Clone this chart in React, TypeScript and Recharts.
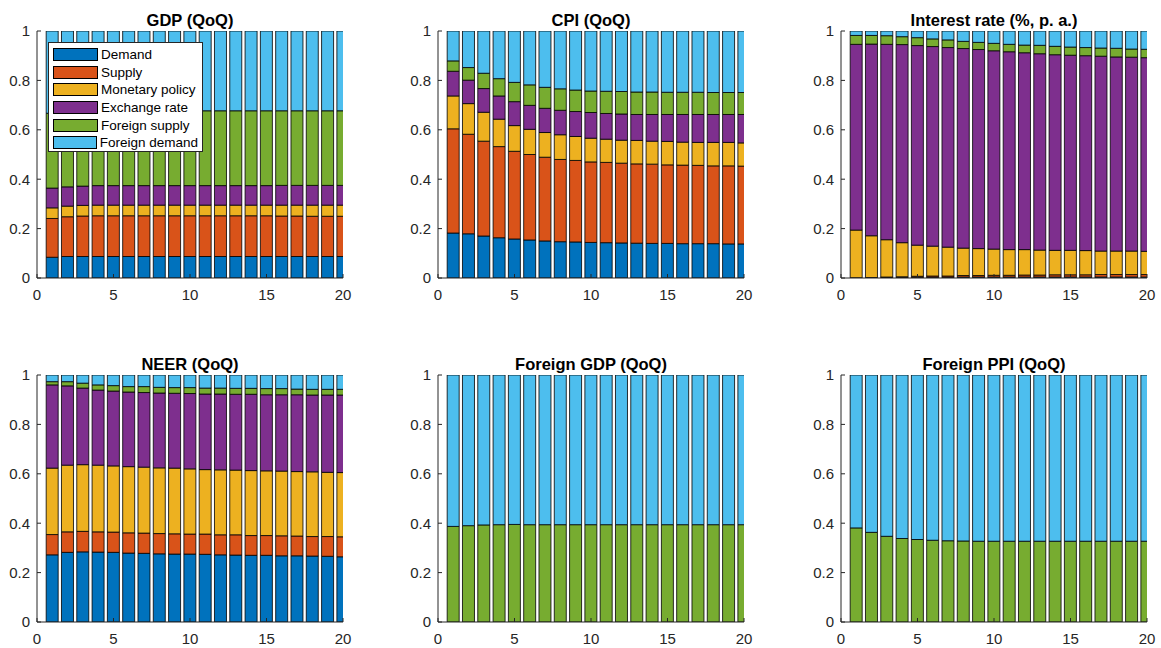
import React from 'react';
import { BarChart, Bar, XAxis, YAxis, Legend } from 'recharts';

const periods = [1, 2, 3, 4, 5, 6, 7, 8, 9, 10, 11, 12, 13, 14, 15, 16, 17, 18, 19, 20];
const shockNames = ['Demand', 'Supply', 'Monetary policy', 'Exchange rate', 'Foreign supply', 'Foreign demand'];
const shockColors = ['#0072BD', '#D95319', '#EDB120', '#7E2F8E', '#77AC30', '#4DBEEE'];
const xTicks = [0, 5, 10, 15, 20];
const yTicks = [0, 0.2, 0.4, 0.6, 0.8, 1];

// GDP (QoQ)
const gdpDemand = [0.084, 0.087, 0.087, 0.087, 0.087, 0.087, 0.087, 0.087, 0.087, 0.087, 0.087, 0.087, 0.087, 0.087, 0.087, 0.087, 0.087, 0.087, 0.087, 0.087];
const gdpSupply = [0.157, 0.161, 0.164, 0.165, 0.165, 0.165, 0.165, 0.165, 0.165, 0.165, 0.165, 0.165, 0.165, 0.165, 0.165, 0.164, 0.164, 0.163, 0.163, 0.163];
const gdpMonetary = [0.043, 0.043, 0.043, 0.043, 0.043, 0.043, 0.043, 0.043, 0.043, 0.043, 0.043, 0.043, 0.043, 0.043, 0.043, 0.044, 0.044, 0.045, 0.045, 0.045];
const gdpExchange = [0.080, 0.078, 0.078, 0.079, 0.079, 0.079, 0.079, 0.079, 0.079, 0.079, 0.079, 0.079, 0.079, 0.079, 0.079, 0.080, 0.080, 0.080, 0.080, 0.080];
const gdpForeignSupply = [0.303, 0.308, 0.305, 0.303, 0.303, 0.303, 0.303, 0.303, 0.303, 0.303, 0.303, 0.303, 0.303, 0.303, 0.303, 0.302, 0.302, 0.302, 0.302, 0.302];
const gdpForeignDemand = [0.333, 0.323, 0.323, 0.323, 0.323, 0.323, 0.323, 0.323, 0.323, 0.323, 0.323, 0.323, 0.323, 0.323, 0.323, 0.323, 0.323, 0.323, 0.323, 0.323];

// CPI (QoQ)
const cpiDemand = [0.182, 0.179, 0.170, 0.163, 0.158, 0.154, 0.150, 0.147, 0.146, 0.144, 0.143, 0.142, 0.141, 0.140, 0.140, 0.139, 0.139, 0.139, 0.138, 0.138];
const cpiSupply = [0.422, 0.403, 0.384, 0.369, 0.355, 0.346, 0.339, 0.333, 0.330, 0.326, 0.325, 0.323, 0.321, 0.321, 0.318, 0.318, 0.317, 0.315, 0.316, 0.315];
const cpiMonetary = [0.133, 0.124, 0.117, 0.111, 0.104, 0.102, 0.100, 0.100, 0.097, 0.096, 0.094, 0.093, 0.095, 0.093, 0.095, 0.093, 0.093, 0.095, 0.095, 0.094];
const cpiExchange = [0.100, 0.095, 0.096, 0.094, 0.097, 0.097, 0.098, 0.099, 0.101, 0.104, 0.104, 0.106, 0.105, 0.108, 0.109, 0.112, 0.113, 0.113, 0.113, 0.115];
const cpiForeignSupply = [0.042, 0.051, 0.062, 0.070, 0.078, 0.083, 0.085, 0.087, 0.087, 0.087, 0.090, 0.091, 0.091, 0.091, 0.090, 0.090, 0.090, 0.089, 0.089, 0.089];
const cpiForeignDemand = [0.121, 0.148, 0.171, 0.193, 0.208, 0.218, 0.228, 0.234, 0.239, 0.243, 0.244, 0.245, 0.247, 0.247, 0.248, 0.248, 0.248, 0.249, 0.249, 0.249];

// Interest rate (%, p. a.)
const rateDemand = [0.001, 0.001, 0.002, 0.002, 0.003, 0.003, 0.003, 0.004, 0.004, 0.004, 0.004, 0.004, 0.004, 0.004, 0.004, 0.004, 0.004, 0.004, 0.004, 0.004];
const rateSupply = [0.000, 0.001, 0.002, 0.003, 0.004, 0.005, 0.005, 0.006, 0.006, 0.007, 0.007, 0.008, 0.008, 0.009, 0.009, 0.009, 0.010, 0.010, 0.010, 0.010];
const rateMonetary = [0.193, 0.169, 0.151, 0.138, 0.126, 0.121, 0.117, 0.111, 0.109, 0.106, 0.104, 0.103, 0.101, 0.099, 0.099, 0.098, 0.095, 0.095, 0.095, 0.094];
const rateExchange = [0.752, 0.776, 0.791, 0.802, 0.808, 0.808, 0.808, 0.808, 0.806, 0.803, 0.801, 0.797, 0.795, 0.792, 0.790, 0.789, 0.789, 0.786, 0.785, 0.784];
const rateForeignSupply = [0.036, 0.035, 0.035, 0.032, 0.032, 0.031, 0.031, 0.029, 0.029, 0.030, 0.030, 0.031, 0.034, 0.034, 0.033, 0.033, 0.033, 0.035, 0.033, 0.034];
const rateForeignDemand = [0.018, 0.018, 0.019, 0.023, 0.027, 0.032, 0.036, 0.042, 0.046, 0.050, 0.054, 0.057, 0.058, 0.062, 0.065, 0.067, 0.069, 0.070, 0.073, 0.074];

// NEER (QoQ)
const neerDemand = [0.272, 0.282, 0.284, 0.283, 0.282, 0.279, 0.278, 0.276, 0.275, 0.275, 0.274, 0.272, 0.271, 0.270, 0.270, 0.268, 0.268, 0.267, 0.266, 0.264];
const neerSupply = [0.082, 0.083, 0.083, 0.082, 0.082, 0.082, 0.082, 0.082, 0.082, 0.081, 0.082, 0.081, 0.082, 0.080, 0.080, 0.081, 0.080, 0.079, 0.080, 0.081];
const neerMonetary = [0.269, 0.270, 0.270, 0.270, 0.268, 0.268, 0.267, 0.266, 0.266, 0.264, 0.261, 0.263, 0.262, 0.263, 0.262, 0.262, 0.261, 0.262, 0.260, 0.260];
const neerExchange = [0.337, 0.321, 0.310, 0.304, 0.303, 0.302, 0.302, 0.303, 0.303, 0.305, 0.306, 0.307, 0.307, 0.309, 0.308, 0.309, 0.311, 0.311, 0.313, 0.314];
const neerForeignSupply = [0.013, 0.017, 0.020, 0.021, 0.022, 0.022, 0.024, 0.023, 0.023, 0.024, 0.024, 0.024, 0.024, 0.024, 0.025, 0.025, 0.023, 0.023, 0.023, 0.023];
const neerForeignDemand = [0.027, 0.027, 0.033, 0.040, 0.043, 0.047, 0.047, 0.050, 0.051, 0.051, 0.053, 0.053, 0.054, 0.054, 0.055, 0.055, 0.057, 0.058, 0.058, 0.058];

// Foreign GDP (QoQ)
const fgdpForeignSupply = [0.387, 0.390, 0.393, 0.394, 0.395, 0.394, 0.394, 0.394, 0.394, 0.394, 0.394, 0.394, 0.394, 0.394, 0.394, 0.394, 0.394, 0.394, 0.394, 0.394];
const fgdpForeignDemand = [0.613, 0.610, 0.607, 0.606, 0.605, 0.606, 0.606, 0.606, 0.606, 0.606, 0.606, 0.606, 0.606, 0.606, 0.606, 0.606, 0.606, 0.606, 0.606, 0.606];

// Foreign PPI (QoQ)
const fppiForeignSupply = [0.381, 0.363, 0.347, 0.338, 0.334, 0.331, 0.329, 0.328, 0.327, 0.327, 0.327, 0.327, 0.327, 0.327, 0.327, 0.327, 0.327, 0.327, 0.327, 0.327];
const fppiForeignDemand = [0.619, 0.637, 0.653, 0.662, 0.666, 0.669, 0.671, 0.672, 0.673, 0.673, 0.673, 0.673, 0.673, 0.673, 0.673, 0.673, 0.673, 0.673, 0.673, 0.673];

const AXIS_COLOR = '#262626';
const PLOT_W = 306;
const PLOT_H = 247;
const PAD_L = 45;
const PAD_T = 31;
const PAD_R = 12;
const PAD_B = 30;

interface Series {
  shock: number;
  values: number[];
}

interface PanelProps {
  title: string;
  series: Series[];
  plotLeft: number;
  plotTop: number;
  showLegend?: boolean;
}

const LegendBox = () => (
  <div
    style={{
      border: `1px solid ${AXIS_COLOR}`,
      background: '#fff',
      width: 155,
      height: 110,
      boxSizing: 'border-box',
      padding: '3px 4px',
    }}
  >
    {shockNames.map((name, i) => (
      <div key={name} style={{ display: 'flex', alignItems: 'center', height: 17.6 }}>
        <span
          style={{
            display: 'inline-block',
            width: 45,
            height: 13,
            background: shockColors[i],
            border: '1px solid #000',
            boxSizing: 'border-box',
          }}
        />
        <span style={{ marginLeft: 3, fontSize: 13.5, color: '#000', whiteSpace: 'nowrap' }}>{name}</span>
      </div>
    ))}
  </div>
);

const Panel: React.FC<PanelProps> = ({ title, series, plotLeft, plotTop, showLegend }) => {
  const data = periods.map((t, i) => {
    const row: Record<string, number> = { t };
    series.forEach((s) => {
      row['s' + s.shock] = s.values[i];
    });
    return row;
  });

  const width = PAD_L + PLOT_W + PAD_R;
  const height = PAD_T + PLOT_H + PAD_B;

  return (
    <div style={{ position: 'absolute', left: plotLeft - PAD_L, top: plotTop - PAD_T, width, height }}>
      <BarChart
        width={width}
        height={height}
        data={data}
        margin={{ top: PAD_T, right: PAD_R, left: 0, bottom: 0 }}
        barCategoryGap="10%"
      >
        {series.map((s) => (
          <Bar
            key={s.shock}
            dataKey={'s' + s.shock}
            name={shockNames[s.shock]}
            stackId="a"
            fill={shockColors[s.shock]}
            stroke="#000"
            strokeWidth={0.8}
            isAnimationActive={false}
          />
        ))}
        <XAxis
          dataKey="t"
          type="number"
          domain={[0, 20]}
          ticks={xTicks}
          allowDataOverflow
          height={PAD_B}
          stroke={AXIS_COLOR}
          tickSize={-4}
          tickMargin={15}
          tick={{ fill: AXIS_COLOR, fontSize: 15 }}
        />
        <XAxis
          xAxisId="top"
          orientation="top"
          type="number"
          domain={[0, 20]}
          ticks={xTicks}
          allowDataOverflow
          height={0}
          stroke={AXIS_COLOR}
          tickSize={-4}
          tick={false}
        />
        <YAxis
          type="number"
          domain={[0, 1]}
          ticks={yTicks}
          allowDataOverflow
          width={PAD_L}
          stroke={AXIS_COLOR}
          tickSize={-4}
          tickMargin={11}
          tick={{ fill: AXIS_COLOR, fontSize: 15 }}
        />
        <YAxis
          yAxisId="right"
          orientation="right"
          type="number"
          domain={[0, 1]}
          ticks={yTicks}
          allowDataOverflow
          width={0}
          stroke={AXIS_COLOR}
          tickSize={-4}
          tick={false}
        />
        {showLegend && (
          <Legend
            layout="vertical"
            align="center"
            verticalAlign="middle"
            wrapperStyle={{ left: PAD_L + 11, top: PAD_T + 11, width: 'auto', height: 'auto' }}
            content={() => <LegendBox />}
          />
        )}
      </BarChart>
      <div
        style={{
          position: 'absolute',
          left: PAD_L,
          width: PLOT_W,
          top: PAD_T - 20,
          lineHeight: '18px',
          textAlign: 'center',
          fontWeight: 'bold',
          fontSize: 16.5,
          color: '#000',
        }}
      >
        {title}
      </div>
    </div>
  );
};

const colLeft = [37, 438, 841];
const rowTop = [31, 375];

const App = () => (
  <div
    style={{
      position: 'absolute',
      left: 0,
      top: 0,
      width: 1161,
      height: 648,
      background: '#fff',
      fontFamily: '"Liberation Sans", Arial, Helvetica, sans-serif',
      overflow: 'hidden',
    }}
  >
    <Panel
      title="GDP (QoQ)"
      plotLeft={colLeft[0]}
      plotTop={rowTop[0]}
      showLegend
      series={[
        { shock: 0, values: gdpDemand },
        { shock: 1, values: gdpSupply },
        { shock: 2, values: gdpMonetary },
        { shock: 3, values: gdpExchange },
        { shock: 4, values: gdpForeignSupply },
        { shock: 5, values: gdpForeignDemand },
      ]}
    />
    <Panel
      title="CPI (QoQ)"
      plotLeft={colLeft[1]}
      plotTop={rowTop[0]}
      series={[
        { shock: 0, values: cpiDemand },
        { shock: 1, values: cpiSupply },
        { shock: 2, values: cpiMonetary },
        { shock: 3, values: cpiExchange },
        { shock: 4, values: cpiForeignSupply },
        { shock: 5, values: cpiForeignDemand },
      ]}
    />
    <Panel
      title="Interest rate (%, p. a.)"
      plotLeft={colLeft[2]}
      plotTop={rowTop[0]}
      series={[
        { shock: 0, values: rateDemand },
        { shock: 1, values: rateSupply },
        { shock: 2, values: rateMonetary },
        { shock: 3, values: rateExchange },
        { shock: 4, values: rateForeignSupply },
        { shock: 5, values: rateForeignDemand },
      ]}
    />
    <Panel
      title="NEER (QoQ)"
      plotLeft={colLeft[0]}
      plotTop={rowTop[1]}
      series={[
        { shock: 0, values: neerDemand },
        { shock: 1, values: neerSupply },
        { shock: 2, values: neerMonetary },
        { shock: 3, values: neerExchange },
        { shock: 4, values: neerForeignSupply },
        { shock: 5, values: neerForeignDemand },
      ]}
    />
    <Panel
      title="Foreign GDP (QoQ)"
      plotLeft={colLeft[1]}
      plotTop={rowTop[1]}
      series={[
        { shock: 4, values: fgdpForeignSupply },
        { shock: 5, values: fgdpForeignDemand },
      ]}
    />
    <Panel
      title="Foreign PPI (QoQ)"
      plotLeft={colLeft[2]}
      plotTop={rowTop[1]}
      series={[
        { shock: 4, values: fppiForeignSupply },
        { shock: 5, values: fppiForeignDemand },
      ]}
    />
  </div>
);

export default App;
